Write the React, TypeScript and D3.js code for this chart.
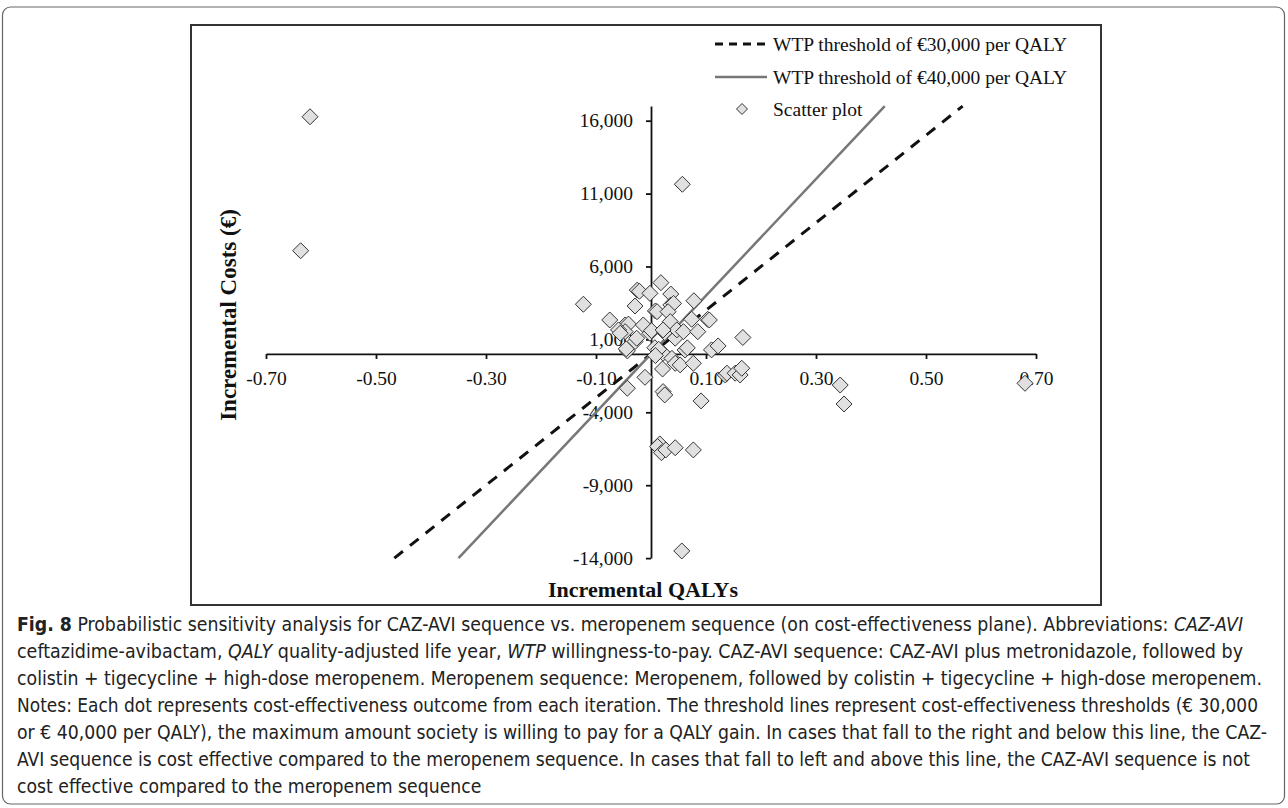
import React, { useEffect, useRef } from 'react';
import * as d3 from 'd3';

// Incremental QALYs / costs of each PSA iteration
const incQalys = [
  -0.62, -0.637, 0.057, 0.056, -0.123, 0.018, -0.025, -0.021, -0.002, 0.036,
  0.078, -0.029, 0.008, 0.011, 0.036, 0.041, 0.031, -0.075, -0.047, -0.041,
  -0.014, 0.035, 0.074, 0.103, 0.106, -0.047, -0.059, -0.056, -0.002, 0.001,
  0.025, 0.044, 0.047, 0.059, 0.085, 0.167, -0.029, -0.026, 0.007, 0.022,
  -0.043, -0.045, 0.022, 0.062, 0.066, 0.11, 0.122, 0.038, 0.044, 0.053,
  0.077, 0.021, -0.011, 0.135, 0.138, 0.153, 0.162, 0.165, -0.043, 0.022,
  0.025, 0.091, 0.344, 0.351, 0.68, 0.016, 0.012, 0.019, 0.027, 0.044,
  0.077, 0.014, 0.008,
];
const incCosts = [
  16270, 7080, 11640, -13510, 3410, 4890, 4380, 4300, 4160, 4110,
  3650, 3290, 2950, 2900, 3360, 3470, 2900, 2330, 1990, 2050,
  1990, 2220, 2380, 2380, 2330, 1530, 1650, 1420, 1420, 1600,
  1460, 1080, 1650, 1530, 1530, 1130, 850, 1080, 430, 1650,
  210, 350, 50, 270, 420, 280, 550, -300, -640, -750,
  -640, -1030, -1600, -1440, -1320, -1320, -1440, -980, -2350, -2580,
  -2810, -3220, -2130, -3430, -2010, -6170, -6350, -6770, -6580, -6430,
  -6580, 320, -110,
];

const xTicks = [-0.7, -0.5, -0.3, -0.1, 0.1, 0.3, 0.5, 0.7];
const yTicks = [-14000, -9000, -4000, 1000, 6000, 11000, 16000];
const wtpThresholds = [30000, 40000];
const legendLabels = [
  'WTP threshold of €30,000 per QALY',
  'WTP threshold of €40,000 per QALY',
  'Scatter plot',
];

// Caption lines: [text, style] segments, plus the right edge of each full line
const captionLines: [string, string][][] = [
  [['Fig. 8', 'b'], [' Probabilistic sensitivity analysis for CAZ-AVI sequence vs. meropenem sequence (on cost-effectiveness plane). Abbreviations: ', 'n'], ['CAZ-AVI', 'i']],
  [['ceftazidime-avibactam, ', 'n'], ['QALY', 'i'], [' quality-adjusted life year, ', 'n'], ['WTP', 'i'], [' willingness-to-pay. CAZ-AVI sequence: CAZ-AVI plus metronidazole, followed by', 'n']],
  [['colistin + tigecycline + high-dose meropenem. Meropenem sequence: Meropenem, followed by colistin + tigecycline + high-dose meropenem.', 'n']],
  [['Notes: Each dot represents cost-effectiveness outcome from each iteration. The threshold lines represent cost-effectiveness thresholds (€ 30,000', 'n']],
  [['or € 40,000 per QALY), the maximum amount society is willing to pay for a QALY gain. In cases that fall to the right and below this line, the CAZ-', 'n']],
  [['AVI sequence is cost effective compared to the meropenem sequence. In cases that fall to left and above this line, the CAZ-AVI sequence is not', 'n']],
  [['cost effective compared to the meropenem sequence', 'n']],
];
const captionEnds = [1243, 1243, 1262, 1258, 1267, 1250, null];

const SERIF = "'Liberation Serif', 'Times New Roman', serif";
const CAPTION_FONT = "'Liberation Sans Narrow', 'DejaVu Sans Condensed', 'Noto Sans', sans-serif";

const fmtNum = (v: number) => (v < 0 ? '-' : '') + d3.format(',')(Math.abs(v));

function CostEffectivenessPlane() {
  const svgRef = useRef<SVGSVGElement>(null);

  useEffect(() => {
    const svg = d3.select(svgRef.current);
    svg.selectAll('*').remove();

    const x = d3.scaleLinear().domain([-0.7, 0.7]).range([266, 1036]);
    const y = d3.scaleLinear().domain([-14000, 17000]).range([558.1, 106.1]);

    // outer figure frame and chart box
    svg.append('rect')
      .attr('x', 2.5).attr('y', 7).attr('width', 1282).attr('height', 797)
      .attr('rx', 8).attr('fill', 'none').attr('stroke', '#666').attr('stroke-width', 1.2);
    svg.append('rect')
      .attr('x', 191).attr('y', 25).attr('width', 910).attr('height', 580)
      .attr('fill', '#fff').attr('stroke', '#333').attr('stroke-width', 2);

    // axes crossing at the origin
    const xAxis = svg.append('g')
      .attr('transform', `translate(0,${y(0)})`)
      .call(d3.axisBottom(x).tickValues(xTicks).tickFormat((v) => (+v).toFixed(2))
        .tickSize(5).tickSizeOuter(0).tickPadding(12));
    const yAxis = svg.append('g')
      .attr('transform', `translate(${x(0)},0)`)
      .call(d3.axisLeft(y).tickValues(yTicks).tickFormat((v) => fmtNum(+v))
        .tickSize(5).tickSizeOuter(0).tickPadding(13));
    [xAxis, yAxis].forEach((g) => {
      g.select('.domain').attr('stroke', '#111').attr('stroke-width', 1.8);
      g.selectAll('.tick line').attr('stroke', '#111').attr('stroke-width', 1.8);
      g.selectAll('.tick text')
        .attr('fill', '#111')
        .style('font-family', SERIF)
        .style('font-size', '19.5px');
    });

    // axis titles
    svg.append('text')
      .attr('x', 643).attr('y', 597)
      .attr('text-anchor', 'middle')
      .style('font-family', SERIF).style('font-size', '22px').style('font-weight', 'bold')
      .attr('fill', '#111')
      .text('Incremental QALYs');
    svg.append('text')
      .attr('transform', 'translate(228,315) rotate(-90)')
      .attr('text-anchor', 'middle').attr('dominant-baseline', 'central')
      .style('font-family', SERIF).style('font-size', '23px').style('font-weight', 'bold')
      .attr('fill', '#111')
      .text('Incremental Costs (€)');

    // WTP threshold lines
    const lineStyles = [
      { stroke: '#111', width: 3, dash: '11,9' },
      { stroke: '#777', width: 2.5, dash: null },
    ];
    wtpThresholds.forEach((wtp, i) => {
      const [c0, c1] = y.domain();
      svg.append('line')
        .attr('x1', x(c0 / wtp)).attr('y1', y(c0))
        .attr('x2', x(c1 / wtp)).attr('y2', y(c1))
        .attr('stroke', lineStyles[i].stroke)
        .attr('stroke-width', lineStyles[i].width)
        .attr('stroke-dasharray', lineStyles[i].dash);
    });

    // scatter diamonds
    const diamond = (s: number) => `M0,${-s}L${s},0L0,${s}L${-s},0Z`;
    svg.append('g')
      .selectAll('path')
      .data(incQalys.map((q, i) => [q, incCosts[i]]))
      .enter()
      .append('path')
      .attr('d', diamond(8))
      .attr('transform', (d) => `translate(${x(d[0])},${y(d[1])})`)
      .attr('fill', '#e0e0e0')
      .attr('stroke', '#333')
      .attr('stroke-width', 1);

    // legend
    const legendY = [44, 77, 109];
    const lg = svg.append('g');
    lineStyles.forEach((st, i) => {
      lg.append('line')
        .attr('x1', 715).attr('x2', 767).attr('y1', legendY[i]).attr('y2', legendY[i])
        .attr('stroke', st.stroke).attr('stroke-width', st.width)
        .attr('stroke-dasharray', st.dash ? '8,6' : null);
    });
    lg.append('path')
      .attr('d', diamond(5.5))
      .attr('transform', `translate(742,${legendY[2]})`)
      .attr('fill', '#e0e0e0').attr('stroke', '#333').attr('stroke-width', 1);
    legendLabels.forEach((label, i) => {
      lg.append('text')
        .attr('x', 773).attr('y', legendY[i])
        .attr('dominant-baseline', 'central')
        .style('font-family', SERIF).style('font-size', '19.5px')
        .attr('fill', '#111')
        .text(label);
    });

    // caption: squeeze full lines to their measured width, last line by the mean factor
    const capTexts = captionLines.map((segs, i) => {
      const t = svg.append('text')
        .attr('x', 17).attr('y', 631 + i * 27)
        .style('font-family', CAPTION_FONT).style('font-size', '19px')
        .attr('fill', '#222');
      segs.forEach(([s, kind]) => {
        t.append('tspan')
          .style('font-weight', kind === 'b' ? 'bold' : 'normal')
          .style('font-style', kind === 'i' ? 'italic' : 'normal')
          .text(s);
      });
      return t;
    });
    const natural = capTexts.map((t) => (t.node() as SVGTextElement).getComputedTextLength());
    const factors = captionEnds
      .map((end, i) => (end == null ? null : (end - 17) / natural[i]))
      .filter((f): f is number => f != null);
    const meanFactor = d3.mean(factors) || 1;
    capTexts.forEach((t, i) => {
      const end = captionEnds[i];
      const len = end == null ? natural[i] * meanFactor : end - 17;
      t.attr('textLength', len).attr('lengthAdjust', 'spacingAndGlyphs');
    });
  }, []);

  return (
    <svg ref={svgRef} width={1288} height={808}
      style={{ position: 'absolute', left: 0, top: 0, background: '#fff' }} />
  );
}

export default function App() {
  return <CostEffectivenessPlane />;
}
